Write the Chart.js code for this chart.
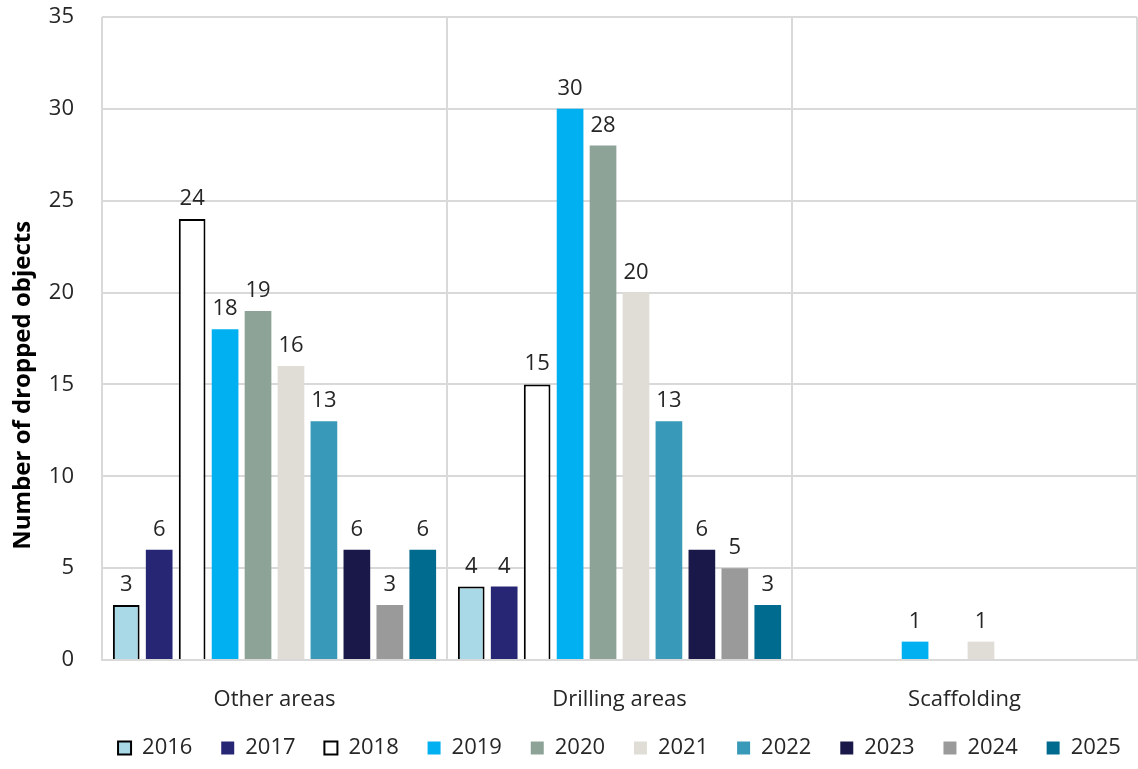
<!DOCTYPE html>
<html lang="en">
<head>
  <meta charset="UTF-8">
  <title>Dropped objects by area</title>
  <script src="https://cdn.jsdelivr.net/npm/chart.js"></script>
  <style>
    body {
      margin: 0;
      background: #fff;
      font-family: "Open Sans", sans-serif;
    }
    #wrap {
      width: 1138px;
      height: 769px;
    }
  </style>
</head>
<body>
  <div id="wrap"><canvas id="dropChart"></canvas></div>
  <script>
    const areas = ['Other areas', 'Drilling areas', 'Scaffolding'];
    const years = ['2016', '2017', '2018', '2019', '2020', '2021', '2022', '2023', '2024', '2025'];

    const v2016 = [3, 4, null];
    const v2017 = [6, 4, null];
    const v2018 = [24, 15, null];
    const v2019 = [18, 30, 1];
    const v2020 = [19, 28, null];
    const v2021 = [16, 20, 1];
    const v2022 = [13, 13, null];
    const v2023 = [6, 6, null];
    const v2024 = [3, 5, null];
    const v2025 = [6, 3, null];

    const yTicks = [0, 5, 10, 15, 20, 25, 30, 35];

    const series = [v2016, v2017, v2018, v2019, v2020, v2021, v2022, v2023, v2024, v2025];
    const fills = ['#a9d8e6', '#272674', '#ffffff', '#00b0f0', '#8ea398',
                   '#e0dcd6', '#3899b8', '#191848', '#9a9a9a', '#006a8f'];
    const outlined = [true, false, true, false, false, false, false, false, false, false];

    const FONT = '"Open Sans", sans-serif';
    const TEXT = '#262626';

    const datasets = years.map((y, i) => ({
      label: y,
      data: series[i],
      backgroundColor: fills[i],
      borderColor: outlined[i] ? '#000' : fills[i],
      borderWidth: outlined[i] ? 2 : 0,
      barPercentage: 0.81,
      categoryPercentage: 0.955
    }));

    // value labels above each bar
    const valueLabels = {
      id: 'valueLabels',
      afterDatasetsDraw(chart) {
        const c = chart.ctx;
        c.save();
        c.font = '22px ' + FONT;
        c.fillStyle = TEXT;
        c.textAlign = 'center';
        c.textBaseline = 'alphabetic';
        chart.data.datasets.forEach((ds, di) => {
          chart.getDatasetMeta(di).data.forEach((bar, j) => {
            const v = ds.data[j];
            if (v == null) return;
            c.fillText(String(v), bar.x, bar.y - 14);
          });
        });
        c.restore();
      }
    };

    const ctx = document.getElementById('dropChart').getContext('2d');
    new Chart(ctx, {
      type: 'bar',
      data: { labels: areas, datasets },
      plugins: [valueLabels],
      options: {
        responsive: true,
        maintainAspectRatio: false,
        animation: false,
        layout: { padding: { top: 0, right: 1, left: 0, bottom: 0 } },
        plugins: {
          tooltip: { enabled: false },
          legend: {
            position: 'bottom',
            fullSize: false,
            labels: {
              boxWidth: 13,
              boxHeight: 13,
              padding: 6,
              color: TEXT,
              font: { size: 22, family: FONT },
              // wider gaps between entries without extra vertical room
              generateLabels(chart) {
                const items = Chart.defaults.plugins.legend.labels.generateLabels(chart);
                return items.map((item, i) =>
                  i < items.length - 1 ? { ...item, text: item.text + '    ' } : item);
              }
            }
          }
        },
        scales: {
          x: {
            offset: true,
            grid: { offset: true, color: '#d9d9d9', lineWidth: 2, drawTicks: false },
            border: { color: '#d9d9d9', width: 2 },
            ticks: {
              color: TEXT,
              padding: 27,
              font: { size: 22, family: FONT }
            },
            afterFit(axis) {
              axis.height = 71;
            }
          },
          y: {
            min: 0,
            max: 35,
            afterBuildTicks(axis) {
              axis.ticks = yTicks.map(v => ({ value: v }));
            },
            afterFit(axis) {
              axis.width = 102;
              axis.paddingTop = 17;
              axis.paddingBottom = 12;
            },
            grid: { color: '#d9d9d9', lineWidth: 2, drawTicks: false },
            border: { display: false },
            ticks: {
              color: TEXT,
              padding: 28,
              font: { size: 22, family: FONT }
            },
            title: {
              display: true,
              // trailing spaces keep the title centred on the full canvas height
              text: 'Number of dropped objects' + ' '.repeat(15),
              color: '#000',
              padding: { top: 9, bottom: 0 },
              font: { size: 24, weight: 'bold', family: FONT }
            }
          }
        }
      }
    });
  </script>
</body>
</html>
